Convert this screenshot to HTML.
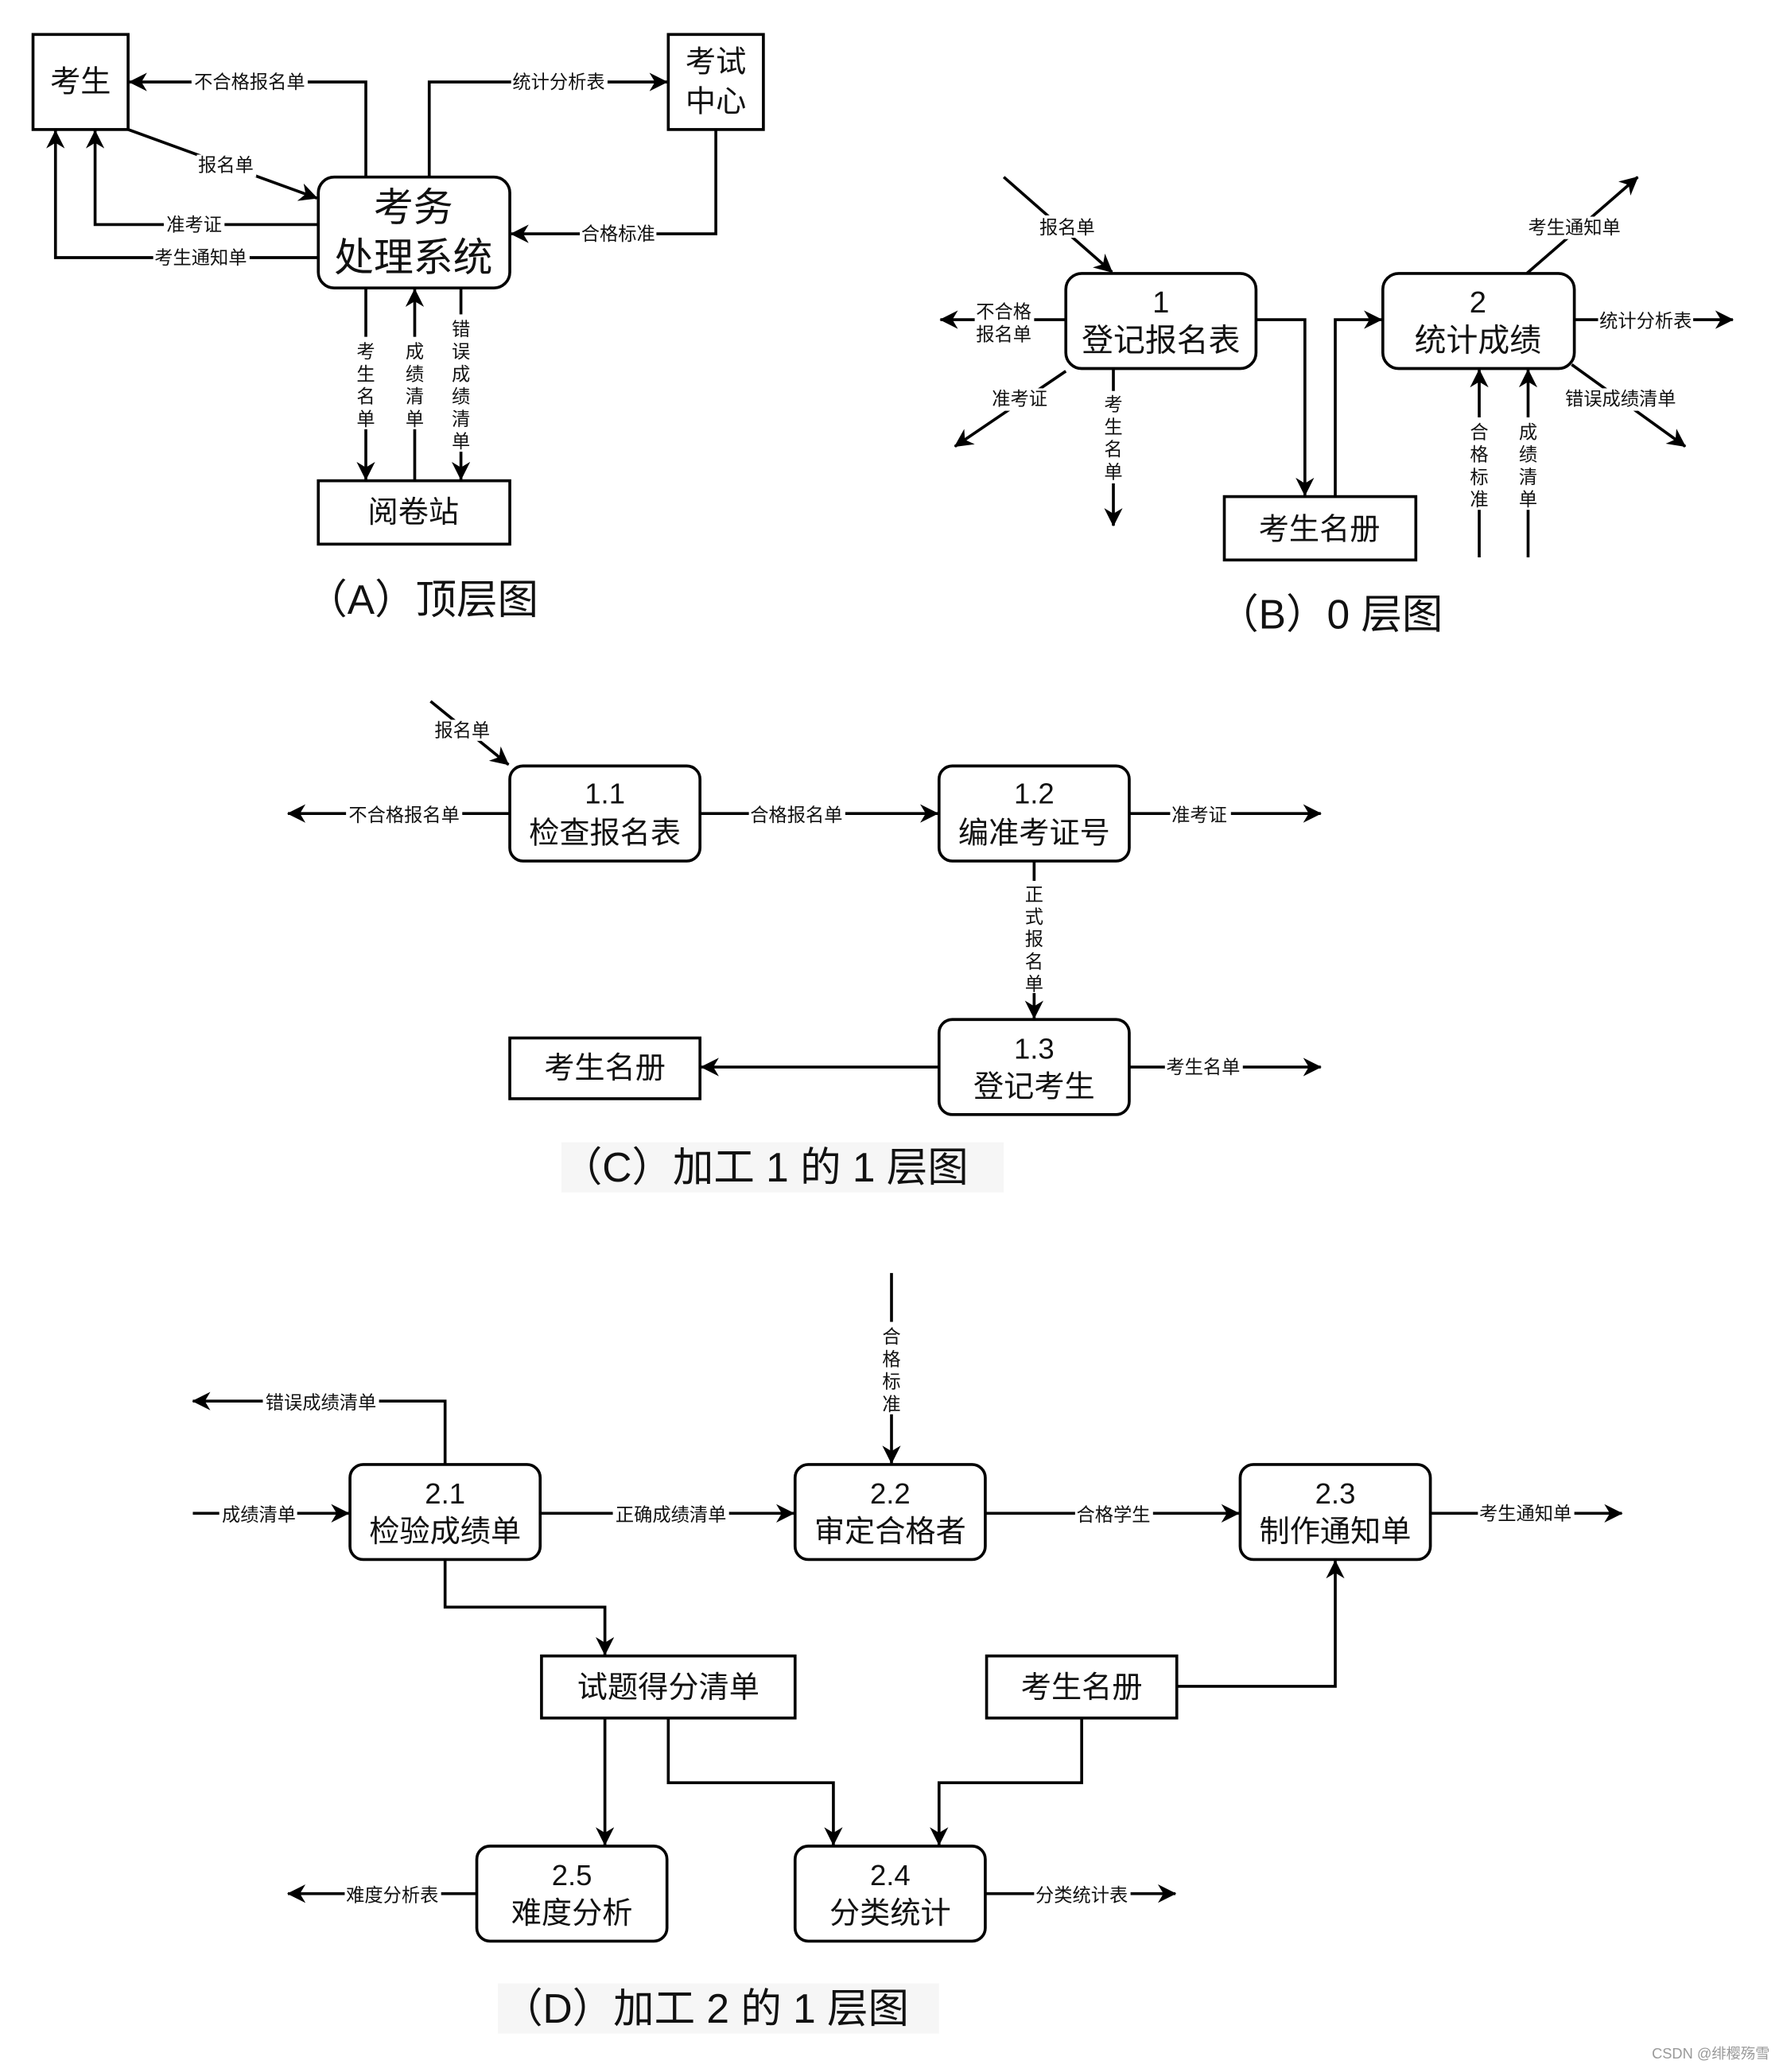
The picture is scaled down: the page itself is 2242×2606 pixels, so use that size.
<!DOCTYPE html>
<html><head><meta charset="utf-8">
<style>
html,body{margin:0;padding:0;background:#fff;}
svg{display:block;}
text{font-family:"Liberation Sans","Noto Sans CJK SC",sans-serif;fill:#111;}
</style></head>
<body>
<svg xmlns="http://www.w3.org/2000/svg" width="2242" height="2606" viewBox="0 0 1350 1569">
<defs>
<marker id="a" markerUnits="userSpaceOnUse" markerWidth="14" markerHeight="14" viewBox="0 0 10 10" refX="9.5" refY="5" orient="auto">
<path d="M0,0 L10,5 L0,10 L3,5 z" fill="#000"/>
</marker>
</defs>
<rect width="1350" height="1569" fill="#fff"/>

<g fill="none" stroke="#000" stroke-width="2.2">
<!-- (A) boxes -->
<rect x="25" y="26" width="72" height="72"/>
<rect x="506" y="26" width="72" height="72"/>
<rect x="241" y="134" width="145" height="84" rx="12"/>
<rect x="241" y="364" width="145" height="48"/>
<!-- (B) -->
<rect x="807" y="207" width="144" height="72" rx="12"/>
<rect x="1047" y="207" width="145" height="72" rx="12"/>
<rect x="927" y="376" width="145" height="48"/>
<!-- (C) -->
<rect x="386" y="580" width="144" height="72" rx="10"/>
<rect x="711" y="580" width="144" height="72" rx="10"/>
<rect x="711" y="772" width="144" height="72" rx="10"/>
<rect x="386" y="786" width="144" height="46"/>
<!-- (D) -->
<rect x="265" y="1109" width="144" height="72" rx="10"/>
<rect x="602" y="1109" width="144" height="72" rx="10"/>
<rect x="939" y="1109" width="144" height="72" rx="10"/>
<rect x="410" y="1254" width="192" height="47"/>
<rect x="747" y="1254" width="144" height="47"/>
<rect x="361" y="1398" width="144" height="72" rx="10"/>
<rect x="602" y="1398" width="144" height="72" rx="10"/>
</g>

<g fill="none" stroke="#000" stroke-width="2.2" marker-end="url(#a)">
<!-- (A) -->
<polyline points="277,134 277,62 98,62"/>
<polyline points="325,134 325,62 505,62"/>
<line x1="97" y1="98" x2="240" y2="150"/>
<polyline points="241,170 72,170 72,99"/>
<polyline points="241,195 42,195 42,99"/>
<polyline points="542,98 542,177 387,177"/>
<line x1="277" y1="218" x2="277" y2="363"/>
<line x1="314" y1="364" x2="314" y2="219"/>
<line x1="349" y1="218" x2="349" y2="363"/>
<!-- (B) -->
<line x1="760" y1="134" x2="842" y2="206"/>
<line x1="807" y1="242" x2="712" y2="242"/>
<line x1="807" y1="281" x2="723" y2="338"/>
<line x1="843" y1="279" x2="843" y2="398"/>
<polyline points="951,242 988,242 988,375"/>
<polyline points="1011,376 1011,242 1046,242"/>
<line x1="1156" y1="207" x2="1240" y2="134"/>
<line x1="1192" y1="242" x2="1312" y2="242"/>
<line x1="1190" y1="276" x2="1276" y2="338"/>
<line x1="1120" y1="422" x2="1120" y2="280"/>
<line x1="1157" y1="422" x2="1157" y2="280"/>
<!-- (C) -->
<line x1="326" y1="531" x2="385" y2="579"/>
<line x1="386" y1="616" x2="218" y2="616"/>
<line x1="530" y1="616" x2="710" y2="616"/>
<line x1="855" y1="616" x2="1000" y2="616"/>
<line x1="783" y1="652" x2="783" y2="771"/>
<line x1="711" y1="808" x2="531" y2="808"/>
<line x1="855" y1="808" x2="1000" y2="808"/>
<!-- (D) -->
<polyline points="337,1109 337,1061 146,1061"/>
<line x1="146" y1="1146" x2="264" y2="1146"/>
<line x1="409" y1="1146" x2="601" y2="1146"/>
<line x1="746" y1="1146" x2="938" y2="1146"/>
<line x1="1083" y1="1146" x2="1228" y2="1146"/>
<line x1="675" y1="964" x2="675" y2="1108"/>
<polyline points="337,1181 337,1217 458,1217 458,1253"/>
<line x1="458" y1="1301" x2="458" y2="1397"/>
<polyline points="506,1301 506,1350 631,1350 631,1397"/>
<polyline points="819,1301 819,1350 711,1350 711,1397"/>
<polyline points="891,1277 1011,1277 1011,1182"/>
<line x1="361" y1="1434" x2="218" y2="1434"/>
<line x1="746" y1="1434" x2="890" y2="1434"/>
</g>

<!-- label backgrounds -->
<g fill="#fff">
<rect x="145" y="54" width="88" height="16"/>
<rect x="387" y="54" width="73" height="16"/>
<rect x="149" y="117" width="45" height="17"/>
<rect x="124" y="162" width="46" height="16"/>
<rect x="116" y="187" width="73" height="16"/>
<rect x="439" y="169" width="58" height="16"/>
<rect x="269" y="255" width="16" height="70"/>
<rect x="306" y="255" width="16" height="70"/>
<rect x="341" y="238" width="16" height="104"/>
<rect x="786" y="163" width="45" height="17"/>
<rect x="738" y="228" width="45" height="33"/>
<rect x="749" y="294" width="46" height="17"/>
<rect x="835" y="296" width="16" height="70"/>
<rect x="1155" y="164" width="73" height="17"/>
<rect x="1210" y="235" width="72" height="16"/>
<rect x="1183" y="294" width="88" height="17"/>
<rect x="1112" y="316" width="16" height="70"/>
<rect x="1149" y="316" width="16" height="70"/>
<rect x="328" y="545" width="45" height="16"/>
<rect x="262" y="609" width="88" height="16"/>
<rect x="567" y="609" width="73" height="16"/>
<rect x="886" y="609" width="46" height="16"/>
<rect x="775" y="667" width="16" height="85"/>
<rect x="882" y="800" width="59" height="16"/>
<rect x="199" y="1054" width="88" height="16"/>
<rect x="166" y="1139" width="59" height="16"/>
<rect x="464" y="1139" width="88" height="16"/>
<rect x="814" y="1139" width="59" height="16"/>
<rect x="1119" y="1138" width="73" height="16"/>
<rect x="667" y="1001" width="16" height="70"/>
<rect x="261" y="1427" width="73" height="16"/>
<rect x="783" y="1427" width="73" height="16"/>
<rect x="425" y="865" width="335" height="38" fill="#f6f6f6"/>
<rect x="377" y="1502" width="334" height="38" fill="#f6f6f6"/>
</g>

<!-- small labels -->
<g font-size="14" text-anchor="middle" dominant-baseline="central">
<text x="189" y="62">不合格报名单</text>
<text x="423" y="62">统计分析表</text>
<text x="171" y="125">报名单</text>
<text x="147" y="170">准考证</text>
<text x="152" y="195">考生通知单</text>
<text x="468" y="177">合格标准</text>
<text x="808" y="172">报名单</text>
<text x="760" y="236">不合格</text>
<text x="760" y="253">报名单</text>
<text x="772" y="302">准考证</text>
<text x="1192" y="172">考生通知单</text>
<text x="1246" y="243">统计分析表</text>
<text x="1227" y="302">错误成绩清单</text>
<text x="350" y="553">报名单</text>
<text x="306" y="617">不合格报名单</text>
<text x="603" y="617">合格报名单</text>
<text x="908" y="617">准考证</text>
<text x="911" y="808">考生名单</text>
<text x="243" y="1062">错误成绩清单</text>
<text x="196" y="1147">成绩清单</text>
<text x="508" y="1147">正确成绩清单</text>
<text x="843" y="1147">合格学生</text>
<text x="1155" y="1146">考生通知单</text>
<text x="297" y="1435">难度分析表</text>
<text x="819" y="1435">分类统计表</text>
</g>
<!-- vertical labels -->
<g font-size="14" text-anchor="middle">
<text x="277" y="271"><tspan x="277">考</tspan><tspan x="277" dy="17">生</tspan><tspan x="277" dy="17">名</tspan><tspan x="277" dy="17">单</tspan></text>
<text x="314" y="271"><tspan x="314">成</tspan><tspan x="314" dy="17">绩</tspan><tspan x="314" dy="17">清</tspan><tspan x="314" dy="17">单</tspan></text>
<text x="349" y="254"><tspan x="349">错</tspan><tspan x="349" dy="17">误</tspan><tspan x="349" dy="17">成</tspan><tspan x="349" dy="17">绩</tspan><tspan x="349" dy="17">清</tspan><tspan x="349" dy="17">单</tspan></text>
<text x="843" y="311"><tspan x="843">考</tspan><tspan x="843" dy="17">生</tspan><tspan x="843" dy="17">名</tspan><tspan x="843" dy="17">单</tspan></text>
<text x="1120" y="332"><tspan x="1120">合</tspan><tspan x="1120" dy="17">格</tspan><tspan x="1120" dy="17">标</tspan><tspan x="1120" dy="17">准</tspan></text>
<text x="1157" y="332"><tspan x="1157">成</tspan><tspan x="1157" dy="17">绩</tspan><tspan x="1157" dy="17">清</tspan><tspan x="1157" dy="17">单</tspan></text>
<text x="783" y="682"><tspan x="783">正</tspan><tspan x="783" dy="17">式</tspan><tspan x="783" dy="17">报</tspan><tspan x="783" dy="17">名</tspan><tspan x="783" dy="17">单</tspan></text>
<text x="675" y="1017"><tspan x="675">合</tspan><tspan x="675" dy="17">格</tspan><tspan x="675" dy="17">标</tspan><tspan x="675" dy="17">准</tspan></text>
</g>

<!-- box text -->
<g text-anchor="middle" dominant-baseline="central">
<text x="61" y="62" font-size="23">考生</text>
<text x="542" y="47" font-size="23">考试</text>
<text x="542" y="77" font-size="23">中心</text>
<text x="313" y="157" font-size="30">考务</text>
<text x="313" y="195" font-size="30">处理系统</text>
<text x="313" y="388" font-size="23">阅卷站</text>
<text x="879" y="229" font-size="23">1</text>
<text x="879" y="258" font-size="24">登记报名表</text>
<text x="1119" y="229" font-size="23">2</text>
<text x="1119" y="258" font-size="24">统计成绩</text>
<text x="999" y="401" font-size="23">考生名册</text>
<text x="458" y="601" font-size="22">1.1</text>
<text x="458" y="631" font-size="23">检查报名表</text>
<text x="783" y="601" font-size="22">1.2</text>
<text x="783" y="631" font-size="23">编准考证号</text>
<text x="783" y="794" font-size="22">1.3</text>
<text x="783" y="823" font-size="23">登记考生</text>
<text x="458" y="809" font-size="23">考生名册</text>
<text x="337" y="1131" font-size="22">2.1</text>
<text x="337" y="1160" font-size="23">检验成绩单</text>
<text x="674" y="1131" font-size="22">2.2</text>
<text x="674" y="1160" font-size="23">审定合格者</text>
<text x="1011" y="1131" font-size="22">2.3</text>
<text x="1011" y="1160" font-size="23">制作通知单</text>
<text x="506" y="1278" font-size="23">试题得分清单</text>
<text x="819" y="1278" font-size="23">考生名册</text>
<text x="433" y="1420" font-size="22">2.5</text>
<text x="433" y="1449" font-size="23">难度分析</text>
<text x="674" y="1420" font-size="22">2.4</text>
<text x="674" y="1449" font-size="23">分类统计</text>
</g>

<!-- captions -->
<g font-size="31" dominant-baseline="central">
<text x="232" y="454">（A）顶层图</text>
<text x="922" y="465">（B）0 层图</text>
<text x="425" y="884">（C）加工 1 的 1 层图</text>
<text x="380" y="1521">（D）加工 2 的 1 层图</text>
</g>
<text x="1340" y="1559" font-size="11" text-anchor="end" fill="#999" style="fill:#999">CSDN @绯樱殇雪</text>
</svg>
</body></html>
